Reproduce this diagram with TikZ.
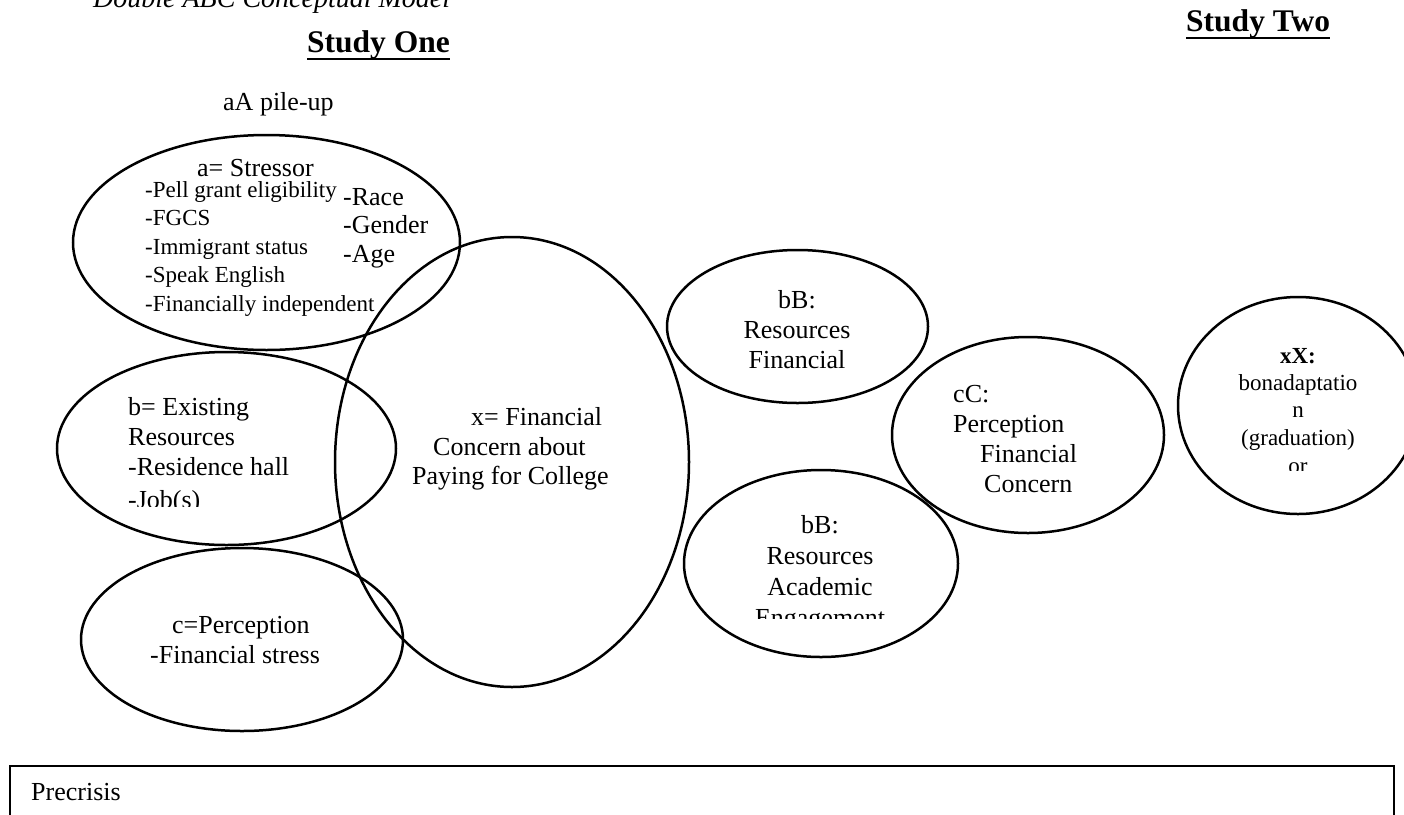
\documentclass[tikz,border=0pt]{standalone}
\usepackage{fontspec}
\setmainfont{Liberation Serif}
\usetikzlibrary{shapes.geometric}
\tikzset{
  oval/.style={draw, ellipse, line width=2.5pt, inner sep=0pt},
  bodytext/.style={font=\fontsize{26}{30}\selectfont, inner sep=0pt},
  listtext/.style={font=\fontsize{23}{28}\selectfont, inner sep=0pt},
  headtext/.style={font=\fontsize{31.5}{36}\selectfont\bfseries, inner sep=0pt}
}

\begin{document}
\begin{tikzpicture}[x=1pt, y=-1pt]
  \useasboundingbox (0,0) rectangle (1404,814);
  \clip (0,0) rectangle (1404,814);
  % headings
  \node[font=\fontsize{28}{32}\selectfont\itshape, inner sep=0pt, anchor=base west] (title) at (93,7) {Double ABC Conceptual Model};
  \node[headtext, anchor=base west] (one) at (307,52) {Study One};
  \draw[line width=2.5pt] (one.south west) -- (one.south east);
  \node[headtext, anchor=base west] (two) at (1186,31) {Study Two};
  \draw[line width=2.5pt] (two.south west) -- (two.south east);
  \node[bodytext, anchor=base west] (pileup) at (223,110) {aA pile-up};
  % study one ovals
  \node[oval, minimum width=387, minimum height=215] (stressor) at (266.5,242.5) {};
  \node[oval, minimum width=339, minimum height=193] (existing) at (226.5,448.5) {};
  \node[oval, minimum width=322, minimum height=183] (perception) at (242,639.5) {};
  \node[oval, minimum width=354, minimum height=450] (concern) at (512,462) {};
  % study two ovals
  \node[oval, minimum width=261, minimum height=153] (finres) at (797.5,326.5) {};
  \node[oval, minimum width=274, minimum height=187] (acadres) at (821,563.5) {};
  \node[oval, minimum width=272, minimum height=196] (finperc) at (1028,435) {};
  \node[oval, minimum width=240, minimum height=217] (adapt) at (1298,405.5) {};
  % a = stressor
  \node[bodytext, anchor=base west] (stresshead) at (197,176) {a= Stressor};
  \foreach \t [count=\i] in {-Pell grant eligibility, -FGCS, -Immigrant status, -Speak English, -Financially independent}
    \node[listtext, anchor=base west] (item\i) at (145,{197+28.5*(\i-1)}) {\t};
  \foreach \t [count=\i] in {-Race, -Gender, -Age}
    \node[bodytext, anchor=base west] (demo\i) at (343,{205+28.5*(\i-1)}) {\t};
  % b = existing resources
  \foreach \t [count=\i] in {b= Existing, Resources, -Residence hall}
    \node[bodytext, anchor=base west] (exist\i) at (128,{415+30*(\i-1)}) {\t};
  \begin{scope}
    \clip (100,480) rectangle (300,506);
    \node[bodytext, anchor=base west] (exist4) at (128,508) {-Job(s)};
  \end{scope}
  % c = perception
  \node[bodytext, anchor=base west] (perc1) at (172,633) {c=Perception};
  \node[bodytext, anchor=base west] (perc2) at (150,663) {-Financial stress};
  % x = concern
  \node[bodytext, anchor=base west] (fin1) at (471,425) {x= Financial};
  \node[bodytext, anchor=base west] (fin2) at (433,455) {Concern about};
  \node[bodytext, anchor=base west] (fin3) at (412,484) {Paying for College};
  % bB financial
  \foreach \t [count=\i] in {bB:, Resources, Financial}
    \node[bodytext, anchor=base] (finres\i) at (797,{308+30*(\i-1)}) {\t};
  % bB academic
  \foreach \t [count=\i] in {bB:, Resources, Academic}
    \node[bodytext, anchor=base] (acad\i) at (820,{533+31*(\i-1)}) {\t};
  \begin{scope}
    \clip (700,600) rectangle (940,618);
    \node[bodytext, anchor=base] (acad4) at (820,626) {Engagement};
  \end{scope}
  % cC perception
  \node[bodytext, anchor=base west] (cc1) at (953,402) {cC:};
  \node[bodytext, anchor=base west] (cc2) at (953,432) {Perception};
  \node[bodytext, anchor=base west] (cc3) at (980,462) {Financial};
  \node[bodytext, anchor=base west] (cc4) at (984,492) {Concern};
  % xX adaptation
  \node[listtext, font=\fontsize{23}{28}\selectfont\bfseries, anchor=base] (xx1) at (1298,363) {xX:};
  \foreach \t [count=\i] in {bonadaptatio, n, (graduation)}
    \node[listtext, anchor=base] (xx\i) at (1298,{390+27.5*(\i-1)}) {\t};
  \begin{scope}
    \clip (1200,450) rectangle (1400,470);
    \node[listtext, anchor=base] (xx4) at (1298,473) {or};
  \end{scope}
  % precrisis box
  \draw[line width=2.5pt] (10,830) -- (10,766) -- (1394,766) -- (1394,830);
  \node[bodytext, anchor=base west] (precrisis) at (31,800) {Precrisis};
\end{tikzpicture}
\end{document}
